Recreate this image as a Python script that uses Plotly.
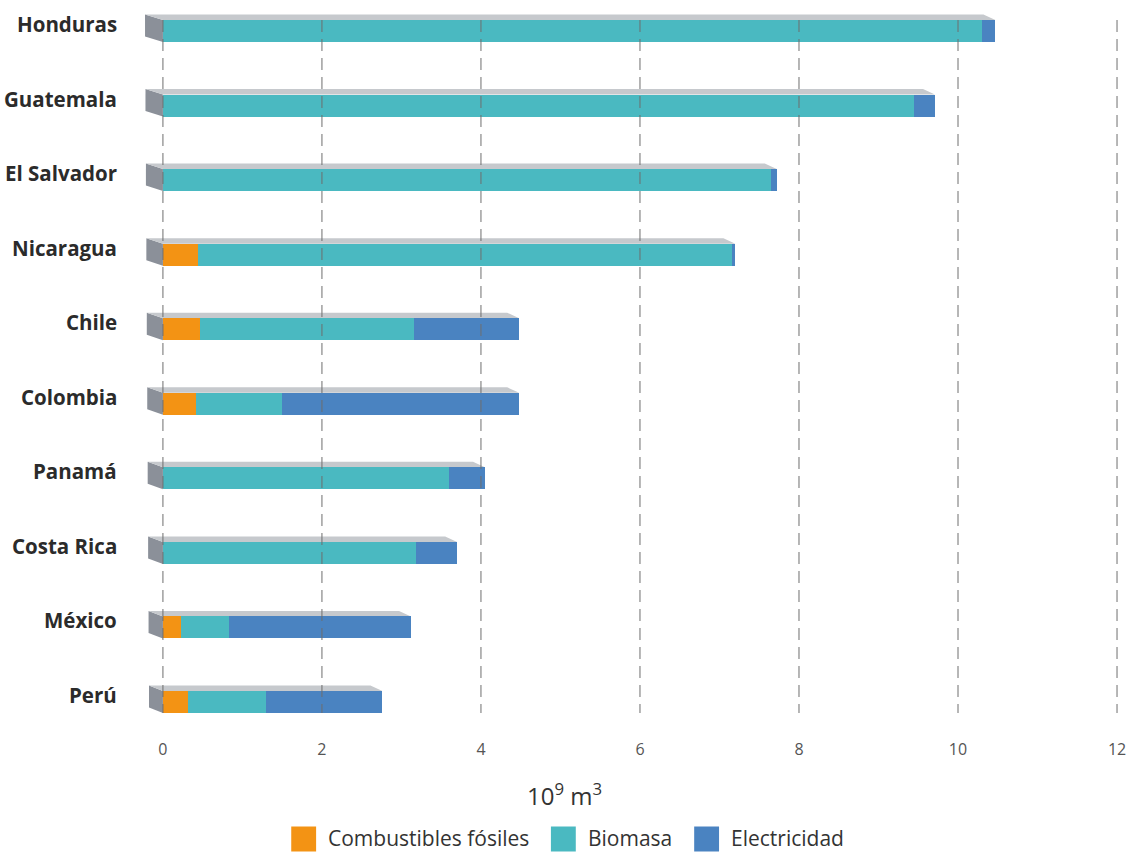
import plotly.graph_objects as go

countries = ["Honduras", "Guatemala", "El Salvador", "Nicaragua", "Chile",
             "Colombia", "Panamá", "Costa Rica", "México", "Perú"]
fosiles = [0.0, 0.0, 0.0, 0.44, 0.46, 0.41, 0.0, 0.0, 0.23, 0.31]
biomasa = [10.30, 9.45, 7.65, 6.72, 2.70, 1.09, 3.60, 3.18, 0.60, 0.98]
electricidad = [0.17, 0.26, 0.07, 0.04, 1.32, 2.98, 0.45, 0.52, 2.29, 1.47]
x_ticks = [0, 2, 4, 6, 8, 10, 12]
series_names = ["Combustibles fósiles", "Biomasa", "Electricidad"]
colors = ["#F39314", "#4AB9C1", "#4A83C1"]

FONT = "Open Sans"
W, H = 1133, 853
ML, MR, MT, MB = 142, 7, 12, 140
XR = [-0.2633, 12.05]
YR = [9.1475, -0.2548]
BAR_W = 0.295
pxx = (W - ML - MR) / (XR[1] - XR[0])
pxy = (H - MT - MB) / (YR[0] - YR[1])

ypos = list(range(len(countries)))
fig = go.Figure()
for name, vals, col in zip(series_names, [fosiles, biomasa, electricidad], colors):
    fig.add_trace(go.Bar(y=ypos, x=vals, orientation="h", name=name,
                         marker=dict(color=col, line=dict(width=0)),
                         width=BAR_W, showlegend=False, hoverinfo="x+name"))

shapes = []
h = BAR_W / 2
dyd = -5.5 / pxy
n = len(countries)
for i in range(n):
    tot = fosiles[i] + biomasa[i] + electricidad[i]
    dxl = -(18 - 4 * i / (n - 1)) / pxx
    dxr = -12 / pxx
    yt = i - h
    yb = i + h
    shapes.append(dict(type="path", xref="x", yref="y", layer="below",
                       path=f"M0,{yt} L0,{yb} L{dxl},{yb + dyd} L{dxl},{yt + dyd} Z",
                       fillcolor="#8B9099", line=dict(width=0)))
    shapes.append(dict(type="path", xref="x", yref="y", layer="below",
                       path=f"M0,{yt} L{dxl},{yt + dyd} L{tot + dxr},{yt + dyd} L{tot},{yt} Z",
                       fillcolor="#C6C9CD", line=dict(width=0)))
for xv in x_ticks:
    shapes.append(dict(type="line", xref="x", yref="y", layer="above",
                       x0=xv, x1=xv, y0=-h, y1=n - 1 + h,
                       line=dict(color="#6E6E6E", width=1, dash="12px,7px")))

annotations = []
for i, c in enumerate(countries):
    annotations.append(dict(xref="paper", yref="y", x=0, y=i, text=f"<b>{c}</b>",
                            xanchor="right", yanchor="middle", showarrow=False,
                            xshift=-23, yshift=7,
                            font=dict(family=FONT, size=20.5, color="#2B2B2B")))

PW, PH = W - ML - MR, H - MT - MB
def px2paper_x(p):
    return (p - ML) / PW
def px2paper_y(p):
    return (H - MB - p) / PH

# axis title centred on the page
annotations.append(dict(xref="paper", yref="paper", x=px2paper_x(W / 2),
                        y=px2paper_y(795),
                        text="10<sup>9</sup> m<sup>3</sup>", showarrow=False,
                        xanchor="center", yanchor="middle",
                        font=dict(family=FONT, size=24, color="#333333")))

# custom legend with large swatches
sw_left = [292, 553, 697]
sw_size = 25
leg_cy = 839
for name, col, xl in zip(series_names, colors, sw_left):
    shapes.append(dict(type="rect", xref="paper", yref="paper",
                       x0=px2paper_x(xl), x1=px2paper_x(xl + sw_size),
                       y0=px2paper_y(leg_cy + sw_size / 2), y1=px2paper_y(leg_cy - sw_size / 2),
                       fillcolor=col, line=dict(width=0)))
    annotations.append(dict(xref="paper", yref="paper", x=px2paper_x(xl + sw_size + 10),
                            y=px2paper_y(leg_cy - 1), text=name, showarrow=False,
                            xanchor="left", yanchor="middle",
                            font=dict(family=FONT, size=21, color="#333333")))

fig.update_layout(
    width=W, height=H,
    margin=dict(l=ML, r=MR, t=MT, b=MB),
    barmode="stack",
    plot_bgcolor="white", paper_bgcolor="white",
    font=dict(family=FONT, color="#333333"),
    shapes=shapes, annotations=annotations,
    showlegend=False,
    xaxis=dict(range=XR, tickvals=x_ticks, ticktext=[str(v) for v in x_ticks],
               showgrid=False, zeroline=False, showline=False, ticks="",
               ticklabelstandoff=25,
               tickfont=dict(family=FONT, size=16, color="#555555")),
    yaxis=dict(range=YR, showgrid=False, zeroline=False, showline=False,
               showticklabels=False, ticks=""),
    bargap=0,
)

fig.write_html("out.html")
